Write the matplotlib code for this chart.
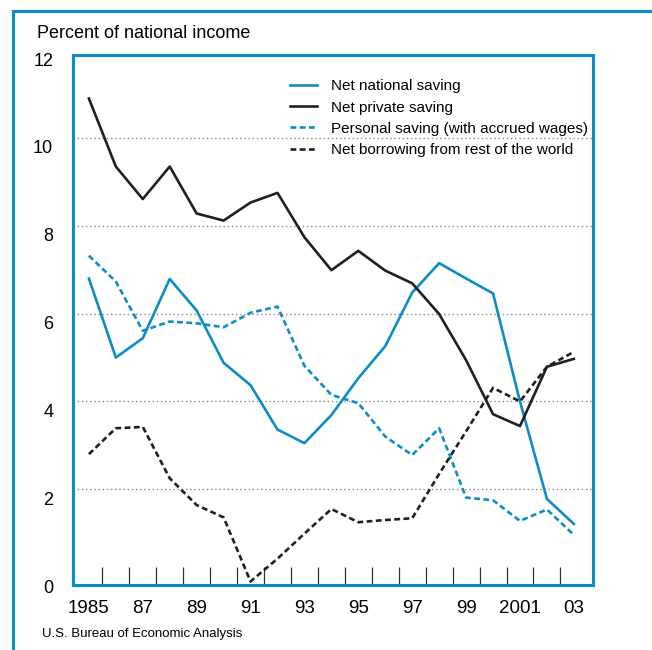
import matplotlib
matplotlib.use('Agg')
import matplotlib.pyplot as plt
import matplotlib.transforms as mtransforms
from matplotlib.lines import Line2D

plt.rcParams['font.family'] = ['Liberation Sans', 'DejaVu Sans']

# data (percent of national income)
years = list(range(1985, 2004))
net_national = [6.80, 5.00, 5.44, 6.79, 6.07, 4.88, 4.37, 3.36, 3.05, 3.69,
                4.53, 5.26, 6.48, 7.15, 6.80, 6.46, 4.00, 1.78, 1.21]
net_private = [10.90, 9.35, 8.61, 9.35, 8.28, 8.12, 8.53, 8.75, 7.74, 6.99,
               7.43, 6.98, 6.69, 5.99, 4.94, 3.71, 3.44, 4.79, 4.97]
personal = [7.32, 6.73, 5.61, 5.82, 5.78, 5.69, 6.02, 6.16, 4.81, 4.15,
            3.96, 3.20, 2.78, 3.39, 1.81, 1.75, 1.28, 1.54, 0.96]
borrowing = [2.80, 3.39, 3.42, 2.25, 1.64, 1.36, -0.10, 0.42, 0.99, 1.55,
             1.25, 1.30, 1.34, 2.35, 3.32, 4.31, 4.00, 4.79, 5.13]

labels = ['Net national saving', 'Net private saving',
          'Personal saving (with accrued wages)', 'Net borrowing from rest of the world']
year_labels = ['1985', '87', '89', '91', '93', '95', '97', '99', '2001', '03']
label_years = list(range(1985, 2004, 2))
grid_vals = [2, 4, 6, 8, 10]
ytick_vals = [0, 2, 4, 6, 8, 10, 12]

BLUE = '#0d8dc6'
BLACK = '#231f20'

W, H = 652, 650
fig = plt.figure(figsize=(W / 100, H / 100), dpi=100)
ax = fig.add_axes([73 / W, (H - 585) / H, 520 / W, 530 / H])

for g in grid_vals:
    ax.axhline(g, color='#8a8a8a', lw=1.0, ls=(0, (1, 2)), zorder=1)

dash = (0, (2.2, 1.3))
ax.plot(years, net_national, color=BLUE, lw=1.9, label=labels[0], zorder=3)
ax.plot(years, net_private, color=BLACK, lw=1.9, label=labels[1], zorder=3)
ax.plot(years, personal, color=BLUE, lw=1.9, ls=dash, label=labels[2], zorder=3)
ax.plot(years, borrowing, color=BLACK, lw=1.9, ls=dash, label=labels[3], zorder=3)

ax.set_xlim(1984.41, 2003.71)
ax.set_ylim(-0.18, 11.89)

# tick marks between years, pointing inside
ax.set_xticks([y + 0.5 for y in years[:-1]])
ax.set_xticklabels([])
ax.tick_params(axis='x', direction='in', length=13, width=0.9, color='#333333')
ax.set_yticks([])

for s in ax.spines.values():
    s.set_color(BLUE)
    s.set_linewidth(2.2)

# x labels at odd years
tx = mtransforms.blended_transform_factory(ax.transData, ax.transAxes)
for yr, lab in zip(label_years, year_labels):
    ax.text(yr, -0.045, lab, transform=tx, ha='center', va='center', fontsize=13.5)

# y labels hang a bit below their value
ty = mtransforms.blended_transform_factory(ax.transAxes, ax.transData)
ty = mtransforms.offset_copy(ty, fig=fig, x=0, y=-11, units='dots')
for v in ytick_vals:
    ax.text(-0.038, v, str(v), transform=ty, ha='right', va='center',
            fontsize=13, clip_on=False)

fig.text(37 / W, 1 - 33 / H, 'Percent of national income', fontsize=13,
         ha='left', va='center')
fig.text(42 / W, 1 - 634 / H, 'U.S. Bureau of Economic Analysis', fontsize=9.5,
         ha='left', va='center')

ax.legend(loc='upper left', bbox_to_anchor=(0.417, 0.954), frameon=False,
          fontsize=11, handlelength=1.8, handletextpad=0.9, labelspacing=0.47,
          borderpad=0, borderaxespad=0)

# outer frame (left and top)
fig.add_artist(Line2D([13 / W, 13 / W], [0, 1 - 11 / H], color=BLUE, lw=2.2,
                      transform=fig.transFigure))
fig.add_artist(Line2D([13 / W, 1], [1 - 11 / H, 1 - 11 / H], color=BLUE, lw=2.2,
                      transform=fig.transFigure))

fig.savefig('out.png', dpi=100)
